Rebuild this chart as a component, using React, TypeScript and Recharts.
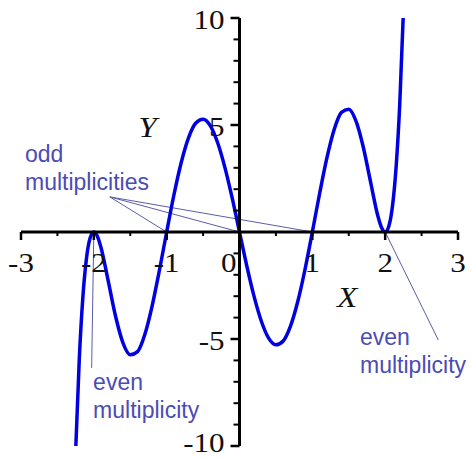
import { LineChart, Line, XAxis, YAxis, ReferenceLine, ReferenceDot } from "recharts";

// curve (x, y)
const curveX = [
  -2.247, -2.2, -2.15, -2.1, -2.05, -2, -1.95, -1.9, -1.8, -1.7, -1.6, -1.5, -1.4, -1.3, -1.2, -1.1,
  -1, -0.9, -0.8, -0.7, -0.6, -0.5, -0.4, -0.3, -0.2, -0.1, 0, 0.1, 0.2, 0.3, 0.4, 0.5, 0.6, 0.7,
  0.8, 0.9, 1, 1.1, 1.2, 1.3, 1.4, 1.5, 1.6, 1.7, 1.8, 1.9, 1.95, 2, 2.05, 2.1, 2.15, 2.2, 2.247,
];
const curveY = [
  -10, -5.96, -3.02, -1.2, -0.27, 0, -0.21, -0.75, -2.33, -3.96, -5.18, -5.74, -5.59, -4.79, -3.46, -1.8,
  0, 1.74, 3.25, 4.4, 5.09, 5.27, 4.96, 4.17, 3.01, 1.58, 0, -1.58, -3.01, -4.17, -4.96, -5.27, -5.09, -4.4,
  -3.25, -1.74, 0, 1.8, 3.46, 4.79, 5.59, 5.74, 5.18, 3.96, 2.33, 0.75, 0.21, 0, 0.27, 1.2, 3.02, 5.96, 10,
];

const xTicks = [-3, -2, -1, 0, 1, 2, 3];
const xTickLabels = ["-3", "-2", "-1", "0", "1", "2", "3"];
const xMinorTicks = [-2.5, -1.5, -0.5, 0.5, 1.5, 2.5];
const yTicks = [10, 5, -5, -10];
const yTickLabels = ["10", "5", "-5", "-10"];
const yMinorTicks = [9, 8, 7, 6, 4, 3, 2, 1, -1, -2, -3, -4, -6, -7, -8, -9];

const oddRoots = [-1, 0, 1];
const evenRoots = [-2, 2];

const data = curveX.map((x, i) => ({ x, y: curveY[i] }));

const NOTE = "#4b4bb5";
const NOTE_LINE = "#5c5caa";
const serif = "'Liberation Serif', 'Times New Roman', serif";
const sans = "'Liberation Sans', Arial, sans-serif";

function SerifText({ x, y, text, anchor, italic }: any) {
  return (
    <text
      transform={`translate(${x} ${y}) scale(1.15 1)`}
      textAnchor={anchor}
      fontFamily={serif}
      fontSize={italic ? 29 : 27}
      fontStyle={italic ? "italic" : "normal"}
      fill="#111"
    >
      {text}
    </text>
  );
}

function Note({ cx, cy, lines }: any) {
  return (
    <text x={cx} y={cy} fontFamily={sans} fontSize={23} fill={NOTE}>
      {lines.map((l: string, i: number) => (
        <tspan key={l} x={cx} dy={i === 0 ? 0 : 28}>
          {l}
        </tspan>
      ))}
    </text>
  );
}

export default function App() {
  return (
    <div style={{ position: "absolute", left: 0, top: 0, background: "#fff" }}>
      <LineChart width={473} height={459} data={data} margin={{ top: 18, right: 15, bottom: 13, left: 21 }}>
        <XAxis type="number" dataKey="x" domain={[-3, 3]} allowDataOverflow hide />
        <YAxis type="number" domain={[-10, 10]} allowDataOverflow hide />

        {/* annotation leader lines */}
        {oddRoots.map((r) => (
          <ReferenceLine
            key={`odd${r}`}
            segment={[{ x: -1.78, y: 1.64 }, { x: r, y: 0 }]}
            stroke={NOTE_LINE}
            strokeWidth={1}
          />
        ))}
        <ReferenceLine segment={[{ x: evenRoots[0], y: 0 }, { x: -2.03, y: -6.35 }]} stroke={NOTE_LINE} strokeWidth={1} />
        <ReferenceLine segment={[{ x: evenRoots[1], y: 0 }, { x: 2.73, y: -5.05 }]} stroke={NOTE_LINE} strokeWidth={1} />

        <Line
          type="monotone"
          dataKey="y"
          stroke="#0000e0"
          strokeWidth={3.5}
          dot={false}
          isAnimationActive={false}
        />

        {/* axes through the origin */}
        <ReferenceLine y={0} stroke="#000" strokeWidth={3} />
        <ReferenceLine x={0} stroke="#000" strokeWidth={3} />

        {xMinorTicks.map((t) => (
          <ReferenceDot
            key={`xm${t}`}
            x={t}
            y={0}
            ifOverflow="visible"
            shape={(p: any) => <line x1={p.cx} y1={p.cy} x2={p.cx} y2={p.cy + 4} stroke="#000" strokeWidth={2} />}
          />
        ))}
        {xTicks.map((t, i) => (
          <ReferenceDot
            key={`x${t}`}
            x={t}
            y={0}
            ifOverflow="visible"
            shape={(p: any) => (
              <g>
                {t !== 0 && <line x1={p.cx} y1={p.cy} x2={p.cx} y2={p.cy + 8} stroke="#000" strokeWidth={2.5} />}
                <SerifText
                  x={t === 0 ? p.cx - 3 : p.cx}
                  y={p.cy + 40}
                  anchor={t === 0 ? "end" : "middle"}
                  text={xTickLabels[i]}
                />
              </g>
            )}
          />
        ))}
        {yMinorTicks.map((t) => (
          <ReferenceDot
            key={`ym${t}`}
            x={0}
            y={t}
            ifOverflow="visible"
            shape={(p: any) => <line x1={p.cx} y1={p.cy} x2={p.cx - 6} y2={p.cy} stroke="#000" strokeWidth={2} />}
          />
        ))}
        {yTicks.map((t, i) => (
          <ReferenceDot
            key={`y${t}`}
            x={0}
            y={t}
            ifOverflow="visible"
            shape={(p: any) => (
              <g>
                <line x1={p.cx} y1={p.cy} x2={p.cx - 9} y2={p.cy} stroke="#000" strokeWidth={2.5} />
                <SerifText x={p.cx - 15} y={p.cy + (t === -10 ? 6 : 11)} anchor="end" text={yTickLabels[i]} />
              </g>
            )}
          />
        ))}

        {/* axis names */}
        <ReferenceDot x={-1.39} y={4.44} ifOverflow="visible"
          shape={(p: any) => <SerifText x={p.cx} y={p.cy} anchor="start" text="Y" italic />} />
        <ReferenceDot x={1.34} y={-3.5} ifOverflow="visible"
          shape={(p: any) => <SerifText x={p.cx} y={p.cy} anchor="start" text="X" italic />} />

        {/* notes */}
        <ReferenceDot x={-2.945} y={3.27} ifOverflow="visible"
          shape={(p: any) => <Note cx={p.cx} cy={p.cy} lines={["odd", "multiplicities"]} />} />
        <ReferenceDot x={-2.01} y={-7.38} ifOverflow="visible"
          shape={(p: any) => <Note cx={p.cx} cy={p.cy} lines={["even", "multiplicity"]} />} />
        <ReferenceDot x={1.655} y={-5.28} ifOverflow="visible"
          shape={(p: any) => <Note cx={p.cx} cy={p.cy} lines={["even", "multiplicity"]} />} />
      </LineChart>
    </div>
  );
}
